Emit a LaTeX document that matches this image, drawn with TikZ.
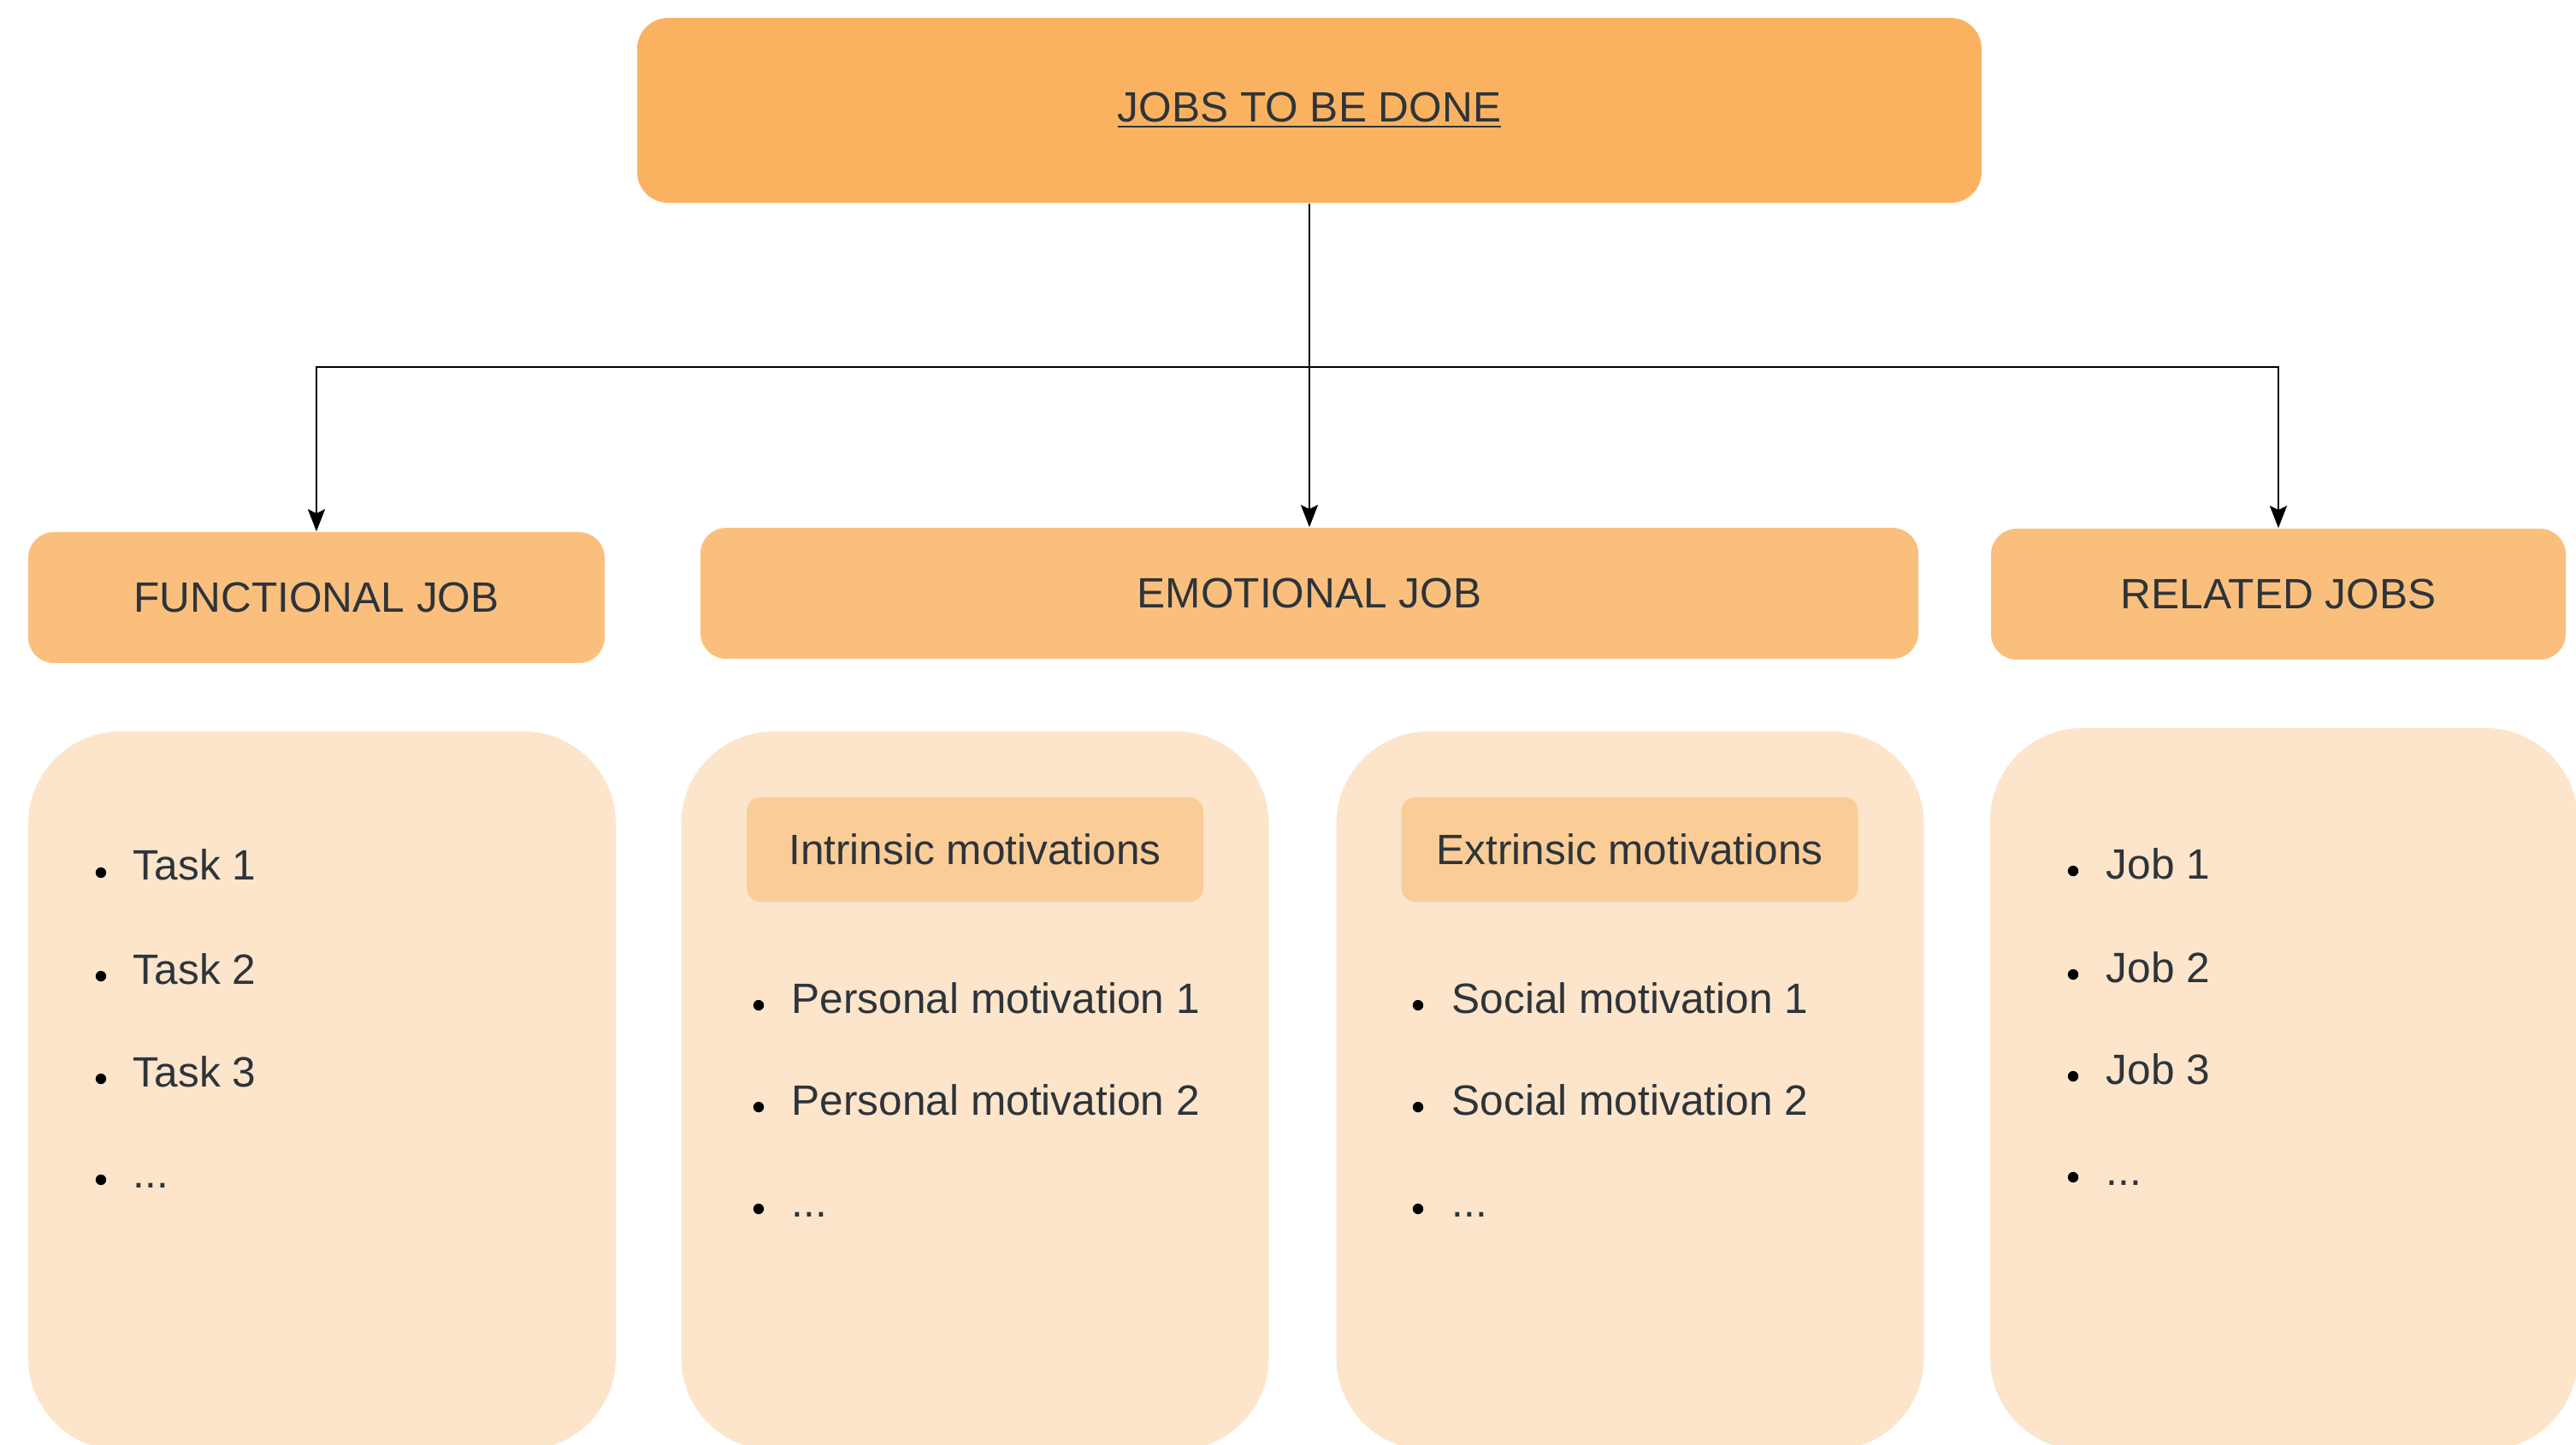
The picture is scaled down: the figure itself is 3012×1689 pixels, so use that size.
\documentclass[tikz,border=0pt]{standalone}
\usepackage{fontspec}
\setmainfont{Liberation Sans}
\usetikzlibrary{arrows.meta}
\definecolor{topfill}{RGB}{251,178,96}
\definecolor{jobfill}{RGB}{251,191,125}
\definecolor{headfill}{RGB}{250,205,152}
\definecolor{panelfill}{RGB}{252,229,203}
\definecolor{ink}{RGB}{45,52,58}
\begin{document}
\begin{tikzpicture}[x=0.25pt,y=-0.25pt,
  every node/.style={font=\fontsize{12.4pt}{14pt}\selectfont, text=ink},
  topbox/.style={fill=topfill, rounded corners=9pt, minimum width=393pt, minimum height=54pt, inner sep=0pt},
  jobbox/.style={fill=jobfill, rounded corners=7.5pt, minimum height=38.25pt, inner sep=0pt},
  panel/.style={fill=panelfill, rounded corners=27pt, minimum width=171.75pt, minimum height=210pt, inner sep=0pt},
  headbox/.style={fill=headfill, rounded corners=4pt, minimum width=133.5pt, minimum height=30.5pt, inner sep=0pt},
  item/.style={anchor=base west, inner sep=0pt},
  dot/.style={circle, fill=black, inner sep=0pt, minimum size=3.1pt},
  link/.style={draw=black, line width=0.6pt},
  arrow/.style={link, -{Stealth[length=6.5pt,width=5pt,inset=1.2pt]}},
]
\useasboundingbox (0,0) rectangle (3012,1689);

% root
\node[topbox] (root) at (1531,129) {\underline{JOBS TO BE DONE}};

% job categories
\node[jobbox, minimum width=168.5pt] (func) at (370,698.5) {FUNCTIONAL JOB};
\node[jobbox, minimum width=356pt] (emo) at (1531,693.5) {EMOTIONAL JOB};
\node[jobbox, minimum width=168pt] (rel) at (2664,694.5) {RELATED JOBS};

% connectors
\coordinate (hub) at (1531,429);
\draw[link] (root.south) -- (hub);
\draw[arrow] (hub) -| (func.north);
\draw[arrow] (hub) -- (emo.north);
\draw[arrow] (hub) -| (rel.north);

% content panels
\node[panel] (funcpanel) at (376.5,1275) {};
\node[panel] (intpanel) at (1140,1275) {};
\node[panel] (extpanel) at (1906,1275) {};
\node[panel, minimum height=211pt] (relpanel) at (2670.5,1273) {};

% motivation headers
\node[headbox] (inthead) at (1140,993) {Intrinsic motivations};
\node[headbox] (exthead) at (1905.5,993) {Extrinsic motivations};

% functional tasks
\node[dot] (fd1) at (118,1020) {};
\node[item] (f1) at (155,1029) {Task 1};
\node[dot] (fd2) at (118,1141) {};
\node[item] (f2) at (155,1150) {Task 2};
\node[dot] (fd3) at (118,1261) {};
\node[item] (f3) at (155,1270) {Task 3};
\node[dot] (fd4) at (118,1379) {};
\node[item] (f4) at (155,1388) {...};

% personal motivations
\node[dot] (pd1) at (887,1175) {};
\node[item] (p1) at (925,1184) {Personal motivation 1};
\node[dot] (pd2) at (887,1294) {};
\node[item] (p2) at (925,1303) {Personal motivation 2};
\node[dot] (pd3) at (887,1413) {};
\node[item] (p3) at (925,1422) {...};

% social motivations
\node[dot] (sd1) at (1658,1175) {};
\node[item] (s1) at (1697,1184) {Social motivation 1};
\node[dot] (sd2) at (1658,1294) {};
\node[item] (s2) at (1697,1303) {Social motivation 2};
\node[dot] (sd3) at (1658,1413) {};
\node[item] (s3) at (1697,1422) {...};

% related jobs
\node[dot] (jd1) at (2424,1018) {};
\node[item] (j1) at (2462,1027) {Job 1};
\node[dot] (jd2) at (2424,1139) {};
\node[item] (j2) at (2462,1148) {Job 2};
\node[dot] (jd3) at (2424,1258) {};
\node[item] (j3) at (2462,1267) {Job 3};
\node[dot] (jd4) at (2424,1376) {};
\node[item] (j4) at (2462,1385) {...};
\end{tikzpicture}
\end{document}
